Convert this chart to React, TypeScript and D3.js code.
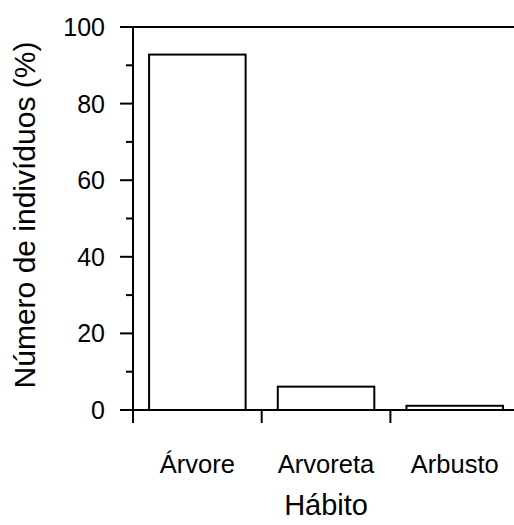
import React from "react";
import { scaleBand, scaleLinear, range } from "d3";

// data
const habits = ["Árvore", "Arvoreta", "Arbusto"];
const percents = [92.8, 6.1, 1.1];
const majorTicks = [0, 20, 40, 60, 80, 100];
const minorTicks = [10, 30, 50, 70, 90];

const W = 514;
const H = 525;
const left = 133;
const top = 27;
const bottom = 410;
const font = "'Liberation Sans', Arial, Helvetica, sans-serif";

export default function App() {
    const x = scaleBand<string>()
        .domain(habits)
        .range([left, left + 3 * 128.7])
        .paddingInner(0.25)
        .paddingOuter(0.125);
    const y = scaleLinear().domain([0, 100]).range([bottom, top]);

    // boundaries between categories (ticks on x axis)
    const step = x.step();
    const bounds = range(1, habits.length + 1).map(i => left + i * step);

    return (
        <svg width={W} height={H} style={{ position: "absolute", left: 0, top: 0, background: "#fff" }}>
            <g stroke="#000" strokeWidth={2} fill="none">
                {/* frame: top line, x axis, y axis */}
                <line x1={120} x2={W} y1={y(100)} y2={y(100)} />
                <line x1={120} x2={W} y1={y(0)} y2={y(0)} />
                <line x1={left} x2={left} y1={y(100)} y2={y(0) + 13} />
                {majorTicks.map(t => (
                    <line key={"M" + t} x1={120} x2={left} y1={y(t)} y2={y(t)} />
                ))}
                {minorTicks.map(t => (
                    <line key={"m" + t} x1={126} x2={left} y1={y(t)} y2={y(t)} />
                ))}
                {bounds.map((b, i) => (
                    <line key={"b" + i} x1={b} x2={b} y1={y(0)} y2={y(0) + 13} />
                ))}
                {/* bars */}
                {habits.map((h, i) => (
                    <rect
                        key={h}
                        x={x(h)}
                        y={y(percents[i])}
                        width={x.bandwidth()}
                        height={y(0) - y(percents[i])}
                        fill="#fff"
                    />
                ))}
            </g>
            <g fontFamily={font} fill="#000">
                {majorTicks.map(t => (
                    <text key={t} x={105} y={y(t)} dy="0.36em" textAnchor="end" fontSize={25}>
                        {t}
                    </text>
                ))}
                {habits.map(h => (
                    <text key={h} x={(x(h) as number) + x.bandwidth() / 2} y={473} textAnchor="middle" fontSize={25.5}>
                        {h}
                    </text>
                ))}
                <text x={left + (1.5 * step)} y={515} textAnchor="middle" fontSize={29}>
                    Hábito
                </text>
                <text transform="translate(35,215) rotate(-90)" textAnchor="middle" fontSize={30}>
                    Número de indivíduos (%)
                </text>
            </g>
        </svg>
    );
}
